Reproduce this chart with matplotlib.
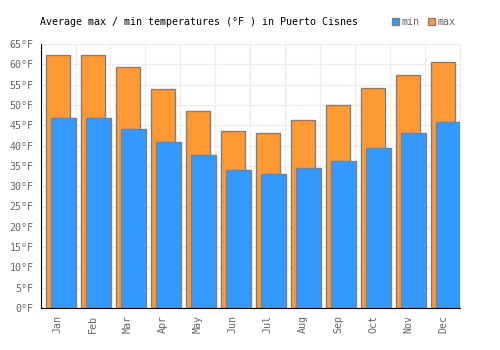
import matplotlib
matplotlib.use('Agg')
import matplotlib.pyplot as plt
import numpy as np

months = ['Jan', 'Feb', 'Mar', 'Apr', 'May', 'Jun', 'Jul', 'Aug', 'Sep', 'Oct', 'Nov', 'Dec']
temp_max = [62.4, 62.4, 59.4, 54.0, 48.4, 43.7, 43.2, 46.2, 50.1, 54.3, 57.5, 60.7]
temp_min = [46.9, 46.7, 44.2, 41.0, 37.8, 33.9, 33.1, 34.4, 36.1, 39.3, 43.0, 45.7]
y_ticks = list(range(0, 70, 5))

plt.rcParams['font.family'] = ['DejaVu Sans Mono']

fig = plt.figure(figsize=(5, 3.5), dpi=100)
ax = fig.add_axes([0.081, 0.12, 0.84, 0.754])

x = np.arange(len(months))
ax.bar(x + 0.5, temp_max, width=0.68, color='#FF9933', edgecolor='#808080',
       linewidth=1, zorder=2, label='max')
ax.bar(x + 0.66, temp_min, width=0.7, color='#3399FF', edgecolor='#808080',
       linewidth=1, zorder=3, label='min')

ax.set_xlim(0, 12)
ax.set_ylim(0, 65)
ax.set_xticks(x + 0.5)
ax.set_xticklabels(months, rotation=90, fontsize=7.2, color='#666666')
ax.set_xticks(np.arange(0, 13), minor=True)
ax.set_yticks(y_ticks)
ax.set_yticklabels([f'{v}°F' for v in y_ticks], fontsize=7.2, color='#666666')
ax.tick_params(axis='both', which='both', length=0)
ax.tick_params(axis='y', pad=5)
ax.tick_params(axis='x', pad=5)

ax.grid(axis='y', which='major', color='#eeeeee', linewidth=1, zorder=0)
ax.grid(axis='x', which='minor', color='#eeeeee', linewidth=1, zorder=0)
ax.set_axisbelow(True)
for side in ['top', 'right']:
    ax.spines[side].set_color('#eeeeee')
for side in ['left', 'bottom']:
    ax.spines[side].set_color('black')
    ax.spines[side].set_zorder(5)

fig.text(0.08, 1 - 22 / 350, 'Average max / min temperatures (°F ) in Puerto Cisnes',
         fontsize=7.2, color='black', va='center', ha='left')

h, l = ax.get_legend_handles_labels()
fig.legend(h[::-1], l[::-1], loc='center right', bbox_to_anchor=(456 / 500, 1 - 22 / 350),
           ncol=2, frameon=False, fontsize=7.2, labelcolor='#666666',
           handlelength=0.7, handleheight=0.7, handletextpad=0.3, columnspacing=0.8,
           borderaxespad=0, borderpad=0)

fig.savefig('out.png', dpi=100)
